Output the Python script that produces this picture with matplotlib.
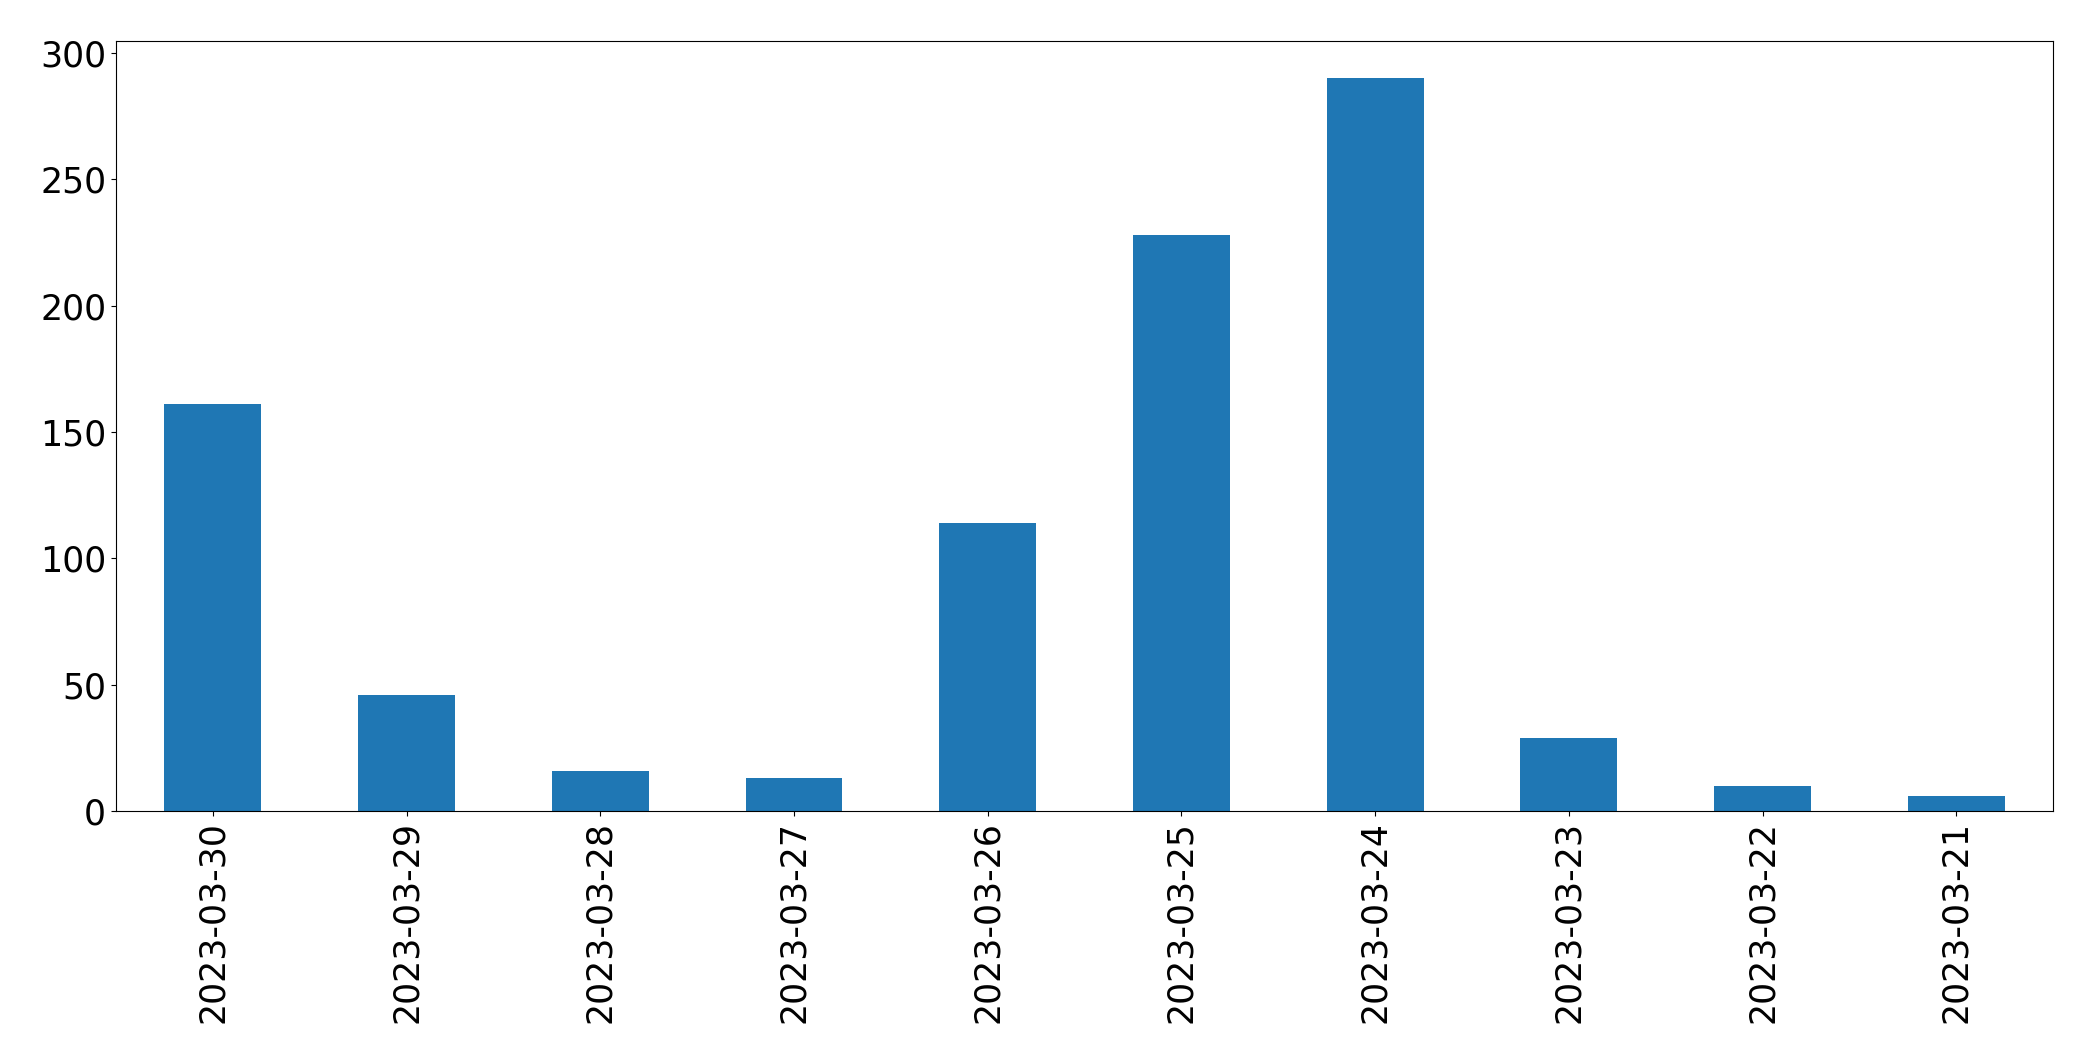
import matplotlib
matplotlib.use("Agg")
from matplotlib import pyplot

dates = ["2023-03-30", "2023-03-29", "2023-03-28", "2023-03-27", "2023-03-26",
         "2023-03-25", "2023-03-24", "2023-03-23", "2023-03-22", "2023-03-21"]
counts = [161, 46, 16, 13, 114, 228, 290, 29, 10, 6]

fig = pyplot.figure(figsize=(20.93, 10.63), dpi=100)
ax = fig.add_subplot(111)
x = range(len(dates))
ax.bar(x, counts, width=0.5, color="#1f77b4")
ax.set_xticks(list(x))
ax.set_xticklabels(dates, rotation=90)
ax.set_xlim(-0.5, len(dates) - 0.5)
ax.tick_params(labelsize=25)
fig.subplots_adjust(left=0.0554, right=0.981, top=0.961, bottom=0.237)
pyplot.savefig("out.png", dpi=100)
